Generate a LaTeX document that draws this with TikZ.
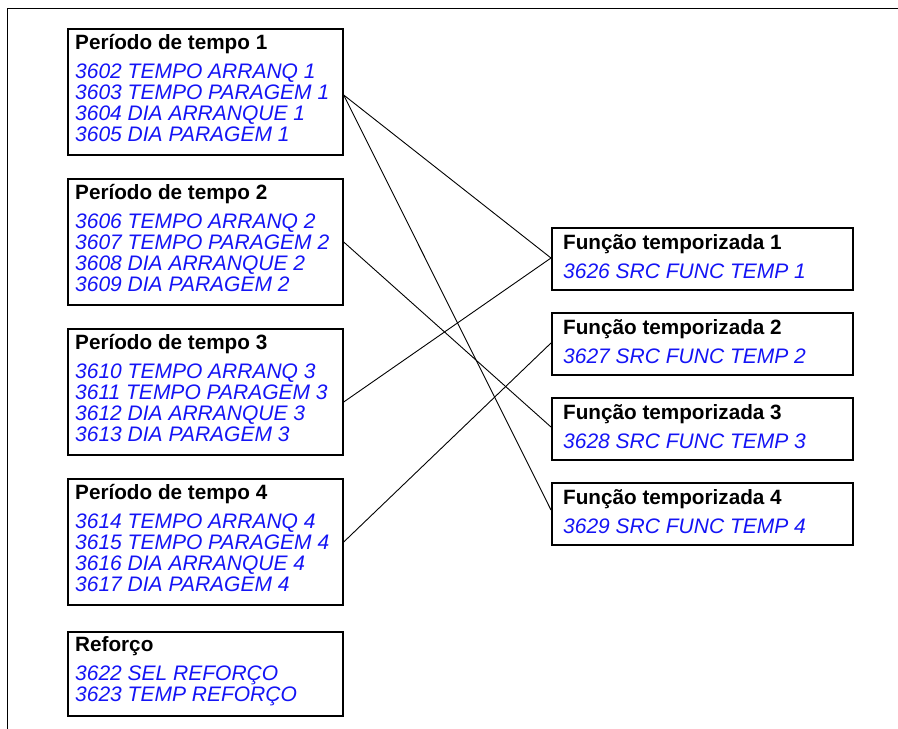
\documentclass[tikz,border=0pt]{standalone}
\usepackage{fontspec}
\setmainfont{Liberation Sans}
\definecolor{parblue}{RGB}{20,20,245}
\begin{document}
\begin{tikzpicture}[x=1pt,y=-1pt,
  box/.style={draw=black, line width=1.7pt, rectangle, anchor=north west, inner sep=0pt, minimum width=275pt},
  fbox/.style={draw=black, line width=1.7pt, rectangle, anchor=north west, inner sep=0pt, minimum width=301pt, minimum height=62pt},
  ttl/.style={anchor=base west, inner sep=0pt, font=\fontsize{20.7}{21}\selectfont\bfseries},
  par/.style={anchor=base west, inner sep=0pt, text=parblue, font=\fontsize{21}{21}\selectfont\itshape},
  conn/.style={draw=black, line width=0.9pt}]
\useasboundingbox (0,0) rectangle (898,729);
% frame
\coordinate (frTL) at (7,8);
\coordinate (frTR) at (898,8);
\coordinate (frBL) at (7,729);
\draw[line width=1pt] (frBL) -- (frTL) -- (frTR);

% left boxes
\node[box, minimum height=126pt] (p1) at (67,28) {};
\node[box, minimum height=126pt] (p2) at (67,178) {};
\node[box, minimum height=126pt] (p3) at (67,328) {};
\node[box, minimum height=126pt] (p4) at (67,478) {};
\node[box, minimum height=84pt] (ref) at (67,631) {};

\node[ttl] (p1t) at (75,49) {Período de tempo 1};
\node[par] (p1a) at (75,78) {3602 TEMPO ARRANQ 1};
\node[par] (p1b) at (75,99) {3603 TEMPO PARAGEM 1};
\node[par] (p1c) at (75,120) {3604 DIA ARRANQUE 1};
\node[par] (p1d) at (75,141) {3605 DIA PARAGEM 1};

\node[ttl] (p2t) at (75,199) {Período de tempo 2};
\node[par] (p2a) at (75,228) {3606 TEMPO ARRANQ 2};
\node[par] (p2b) at (75,249) {3607 TEMPO PARAGEM 2};
\node[par] (p2c) at (75,270) {3608 DIA ARRANQUE 2};
\node[par] (p2d) at (75,291) {3609 DIA PARAGEM 2};

\node[ttl] (p3t) at (75,349) {Período de tempo 3};
\node[par] (p3a) at (75,378) {3610 TEMPO ARRANQ 3};
\node[par] (p3b) at (75,399) {3611 TEMPO PARAGEM 3};
\node[par] (p3c) at (75,420) {3612 DIA ARRANQUE 3};
\node[par] (p3d) at (75,441) {3613 DIA PARAGEM 3};

\node[ttl] (p4t) at (75,499) {Período de tempo 4};
\node[par] (p4a) at (75,528) {3614 TEMPO ARRANQ 4};
\node[par] (p4b) at (75,549) {3615 TEMPO PARAGEM 4};
\node[par] (p4c) at (75,570) {3616 DIA ARRANQUE 4};
\node[par] (p4d) at (75,591) {3617 DIA PARAGEM 4};

\node[ttl] (reft) at (75,651) {Reforço};
\node[par] (refa) at (75,680) {3622 SEL REFORÇO};
\node[par] (refb) at (75,701) {3623 TEMP REFORÇO};

% right boxes
\node[fbox] (f1) at (551,227) {};
\node[fbox] (f2) at (551,312) {};
\node[fbox] (f3) at (551,397) {};
\node[fbox] (f4) at (551,482) {};

\node[ttl] (f1t) at (563,249) {Função temporizada 1};
\node[par] (f1a) at (563,278) {3626 SRC FUNC TEMP 1};
\node[ttl] (f2t) at (563,334) {Função temporizada 2};
\node[par] (f2a) at (563,363) {3627 SRC FUNC TEMP 2};
\node[ttl] (f3t) at (563,419) {Função temporizada 3};
\node[par] (f3a) at (563,448) {3628 SRC FUNC TEMP 3};
\node[ttl] (f4t) at (563,504) {Função temporizada 4};
\node[par] (f4a) at (563,533) {3629 SRC FUNC TEMP 4};

% connector anchor points
\coordinate (o1) at ([yshift=-67pt]p1.north east);
\coordinate (o2) at ([yshift=-64pt]p2.north east);
\coordinate (o3) at ([yshift=-74pt]p3.north east);
\coordinate (o4) at ([yshift=-64pt]p4.north east);
\coordinate (i1) at ([yshift=-31pt]f1.north west);
\coordinate (i2) at ([yshift=-31pt]f2.north west);
\coordinate (i3) at ([yshift=-30pt]f3.north west);
\coordinate (i4) at ([yshift=-28pt]f4.north west);

\draw[conn] (o1) -- (i1);
\draw[conn] (o1) -- (i4);
\draw[conn] (o2) -- (i3);
\draw[conn] (o3) -- (i1);
\draw[conn] (o4) -- (i2);
\end{tikzpicture}
\end{document}
